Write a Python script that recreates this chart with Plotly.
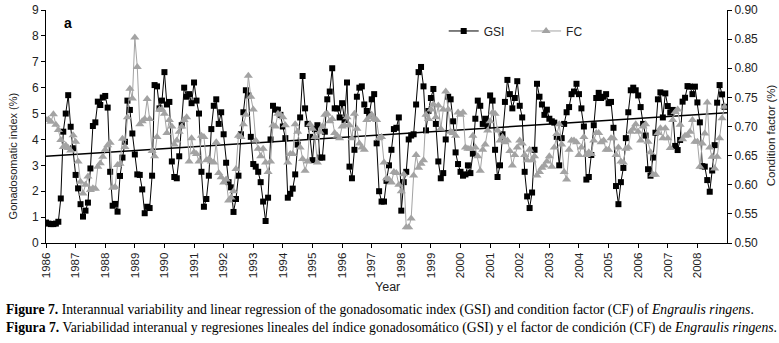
import plotly.graph_objects as go

# Monthly series, January 1986 - December 2008
start_year = 1986
gsi = [0.79, 0.75, 0.73, 0.73, 0.75, 0.82, 1.72, 4.3, 5.0, 5.71, 4.49, 3.66, 2.63, 2.11, 1.5, 1.02, 1.25, 1.56, 2.88, 4.52,
       4.66, 5.46, 5.33, 5.62, 5.68, 5.23, 2.75, 1.44, 1.51, 1.21, 2.59, 3.3, 3.91, 5.5, 5.14, 4.23, 3.42, 2.65, 2.63, 2.07,
       1.15, 1.4, 1.35, 2.6, 6.1, 6.05, 5.2, 5.5, 6.6, 5.35, 5.45, 3.15, 2.55, 2.5, 3.35, 4.55, 6.0, 5.65, 5.75, 5.4,
       6.2, 5.5, 5.0, 2.75, 1.4, 1.7, 2.6, 4.4, 5.3, 5.55, 4.6, 5.05, 4.2, 3.1, 2.35, 2.15, 1.2, 1.7, 2.6, 4.2,
       5.05, 5.9, 5.7, 4.1, 3.05, 2.95, 2.75, 2.35, 1.6, 0.85, 1.75, 4.0, 5.3, 5.15, 5.15, 4.95, 4.5, 4.05, 1.75, 1.9,
       2.1, 2.65, 3.8, 4.85, 6.45, 5.2, 4.6, 4.1, 3.2, 4.4, 4.55, 3.3, 3.3, 4.3, 5.55, 5.85, 6.75, 5.2, 5.2, 4.85,
       5.4, 4.75, 6.2, 2.95, 2.5, 3.6, 5.65, 6.0, 6.05, 5.35, 5.1, 4.95, 5.55, 5.75, 3.85, 2.0, 1.6, 1.6, 2.4, 3.0,
       3.6, 4.4, 4.45, 4.85, 1.25, 2.35, 2.75, 4.0, 4.15, 4.2, 5.35, 6.6, 6.8, 6.05, 4.35, 5.1, 5.6, 5.95, 4.6, 3.15,
       2.5, 2.7, 4.0, 5.65, 5.55, 4.7, 3.5, 3.05, 2.75, 2.6, 2.65, 3.0, 2.7, 3.45, 4.8, 5.5, 5.3, 4.6, 4.8, 4.55,
       5.7, 5.5, 3.6, 2.55, 3.0, 4.2, 5.45, 6.3, 5.75, 5.2, 5.6, 6.25, 5.3, 4.85, 2.75, 1.8, 1.35, 1.95, 3.6, 6.15,
       5.65, 5.35, 4.95, 5.15, 4.8, 4.7, 4.65, 4.1, 3.0, 4.05, 4.6, 5.05, 5.25, 5.75, 5.85, 6.15, 5.75, 5.2, 4.5, 2.45,
       2.55, 3.4, 4.55, 5.6, 5.8, 5.6, 5.65, 5.75, 5.4, 5.45, 4.45, 2.2, 1.5, 2.35, 2.9, 4.05, 5.05, 5.9, 6.0, 5.9,
       5.7, 5.25, 4.6, 4.15, 2.85, 2.6, 3.3, 4.26, 5.55, 5.82, 4.85, 5.78, 5.29, 5.04, 5.14, 3.75, 3.59, 3.98, 5.46, 5.61,
       6.06, 6.04, 5.75, 6.04, 5.43, 4.66, 2.97, 2.95, 2.43, 1.98, 2.8, 3.78, 5.42, 6.1, 5.74, 5.26]

fc = [0.711, 0.712, 0.708, 0.721, 0.703, 0.694, 0.677, 0.665, 0.668, 0.663, 0.659, 0.685, 0.674, 0.640, 0.605, 0.585,
      0.600, 0.614, 0.591, 0.594, 0.593, 0.631, 0.637, 0.648, 0.660, 0.668, 0.672, 0.595, 0.596, 0.634, 0.636, 0.679,
      0.665, 0.716, 0.765, 0.748, 0.853, 0.802, 0.704, 0.709, 0.713, 0.747, 0.713, 0.658, 0.649, 0.682, 0.729, 0.729,
      0.722, 0.689, 0.711, 0.700, 0.669, 0.676, 0.691, 0.700, 0.711, 0.716, 0.640, 0.680, 0.656, 0.653, 0.640, 0.684,
      0.682, 0.642, 0.644, 0.640, 0.638, 0.673, 0.620, 0.613, 0.604, 0.609, 0.573, 0.578, 0.589, 0.627, 0.684, 0.682,
      0.704, 0.720, 0.787, 0.751, 0.729, 0.676, 0.662, 0.649, 0.662, 0.638, 0.622, 0.640, 0.702, 0.700, 0.722, 0.720,
      0.716, 0.702, 0.638, 0.653, 0.653, 0.704, 0.691, 0.664, 0.644, 0.624, 0.640, 0.704, 0.696, 0.682, 0.638, 0.691,
      0.700, 0.720, 0.722, 0.709, 0.713, 0.689, 0.684, 0.680, 0.700, 0.702, 0.716, 0.702, 0.680, 0.722, 0.696, 0.671,
      0.664, 0.660, 0.711, 0.716, 0.720, 0.713, 0.711, 0.680, 0.682, 0.638, 0.611, 0.609, 0.604, 0.622, 0.620, 0.600,
      0.589, 0.618, 0.527, 0.527, 0.542, 0.616, 0.651, 0.629, 0.636, 0.642, 0.720, 0.713, 0.729, 0.738, 0.716, 0.736,
      0.696, 0.729, 0.760, 0.729, 0.691, 0.689, 0.684, 0.724, 0.720, 0.724, 0.664, 0.662, 0.662, 0.684, 0.664, 0.649,
      0.624, 0.660, 0.669, 0.693, 0.709, 0.724, 0.722, 0.693, 0.676, 0.682, 0.673, 0.676, 0.658, 0.633, 0.651, 0.664,
      0.676, 0.671, 0.651, 0.642, 0.660, 0.642, 0.649, 0.616, 0.622, 0.629, 0.633, 0.640, 0.649, 0.631, 0.664, 0.687,
      0.704, 0.669, 0.622, 0.609, 0.660, 0.676, 0.676, 0.673, 0.651, 0.664, 0.682, 0.651, 0.656, 0.653, 0.676, 0.689,
      0.689, 0.673, 0.676, 0.660, 0.660, 0.680, 0.680, 0.651, 0.664, 0.640, 0.638, 0.662, 0.664, 0.691, 0.696, 0.704,
      0.691, 0.676, 0.700, 0.704, 0.674, 0.656, 0.617, 0.617, 0.689, 0.697, 0.680, 0.697, 0.680, 0.663, 0.711, 0.725,
      0.729, 0.703, 0.678, 0.684, 0.685, 0.691, 0.711, 0.674, 0.674, 0.631, 0.671, 0.688, 0.741, 0.664, 0.648, 0.628,
      0.648, 0.680, 0.714, 0.734]

# Linear regression of GSI (end points)
trend_years = [1986, 2009]
trend_gsi = [3.35, 5.03]

year_ticks = list(range(1986, 2009))
gsi_ticks = list(range(0, 10))
cf_ticks = [0.50, 0.55, 0.60, 0.65, 0.70, 0.75, 0.80, 0.85, 0.90]

gsi_x = [start_year + i / 12 for i in range(len(gsi))]
fc_x = [start_year + i / 12 for i in range(len(fc))]

sans = "Liberation Sans, Arial, sans-serif"
serif = "Liberation Serif, Times New Roman, serif"
gray = "#a3a3a3"
ink = "#222"

fig = go.Figure()
fig.add_trace(go.Scatter(
    x=gsi_x, y=gsi, name="GSI", mode="lines+markers",
    line=dict(color="black", width=1),
    marker=dict(symbol="square", size=6, color="black"),
    yaxis="y", legend="legend"))
fig.add_trace(go.Scatter(
    x=fc_x, y=fc, name="FC", mode="lines+markers",
    line=dict(color=gray, width=1),
    marker=dict(symbol="triangle-up", size=8, color=gray),
    yaxis="y2", legend="legend2"))
fig.add_trace(go.Scatter(
    x=trend_years, y=trend_gsi, mode="lines", showlegend=False,
    line=dict(color="black", width=1.5), yaxis="y", hoverinfo="skip"))

legend_style = dict(orientation="h", xanchor="left", yanchor="middle", y=0.91,
                    bgcolor="rgba(0,0,0,0)", font=dict(family=sans, size=12, color=ink),
                    itemwidth=30)

fig.update_layout(
    width=779, height=343,
    margin=dict(l=46, r=52, t=10, b=100),
    paper_bgcolor="white", plot_bgcolor="white",
    font=dict(family=sans, size=11, color="black"),
    showlegend=True,
    legend=dict(x=0.584, **legend_style),
    legend2=dict(x=0.705, **legend_style),
    xaxis=dict(range=[1986, 2009], tickmode="array", tickvals=year_ticks,
               ticktext=[str(y) for y in year_ticks], tickangle=-90,
               showline=True, linecolor="black", linewidth=1,
               ticks="outside", ticklen=4, tickcolor="black",
               showgrid=False, zeroline=False, automargin=False,
               tickfont=dict(family=sans, size=11.5, color=ink)),
    yaxis=dict(range=[0, 9], tickmode="array", tickvals=gsi_ticks,
               showline=True, linecolor="black", linewidth=1,
               ticks="outside", ticklen=4, tickcolor="black",
               showgrid=False, zeroline=False, automargin=False,
               tickfont=dict(family=sans, size=12, color=ink)),
    yaxis2=dict(range=[0.5, 0.9], overlaying="y", side="right", tickmode="array",
                tickvals=cf_ticks, ticktext=[f"{v:.2f}" for v in cf_ticks],
                showline=True, linecolor="black", linewidth=1,
                ticks="outside", ticklen=4, tickcolor="black",
                showgrid=False, zeroline=False, automargin=False,
                tickfont=dict(family=sans, size=12, color=ink)),
)

annotations = [
    dict(text="<b>a</b>", x=0.032, y=0.945, xref="paper", yref="paper",
         xanchor="center", yanchor="middle",
         showarrow=False, font=dict(family=sans, size=14)),
    dict(text="Gonadosomatic index (%)", x=-0.048, y=0.373, xref="paper", yref="paper",
         xanchor="center", yanchor="middle",
         textangle=-90, showarrow=False, font=dict(family=sans, size=11, color=ink)),
    dict(text="Condition factor (%)", x=1.065, y=0.4635, xref="paper", yref="paper",
         xanchor="center", yanchor="middle",
         textangle=-90, showarrow=False, font=dict(family=sans, size=11.5, color=ink)),
    dict(text="Year", x=0.502, y=-0.189, xref="paper", yref="paper",
         xanchor="center", yanchor="middle",
         showarrow=False, font=dict(family=sans, size=12.5, color=ink)),
    dict(text="<b>Figure 7.</b> Interannual variability and linear regression of the gonadosomatic index (GSI) "
              "and condition factor (CF) of <i>Engraulis ringens</i>.",
         x=-0.061, y=-0.288, xref="paper", yref="paper", xanchor="left", yanchor="middle",
         showarrow=False, font=dict(family=serif, size=13.7)),
    dict(text="<b>Figura 7.</b> Variabilidad interanual y regresiones lineales del índice gonadosomático (GSI) "
              "y el factor de condición (CF) de <i>Engraulis ringens</i>.",
         x=-0.061, y=-0.365, xref="paper", yref="paper", xanchor="left", yanchor="middle",
         showarrow=False, font=dict(family=serif, size=13.7)),
]
fig.update_layout(annotations=annotations)

fig.write_html("out.html", config={"displayModeBar": False},
               post_script="document.body.style.margin='0';")
